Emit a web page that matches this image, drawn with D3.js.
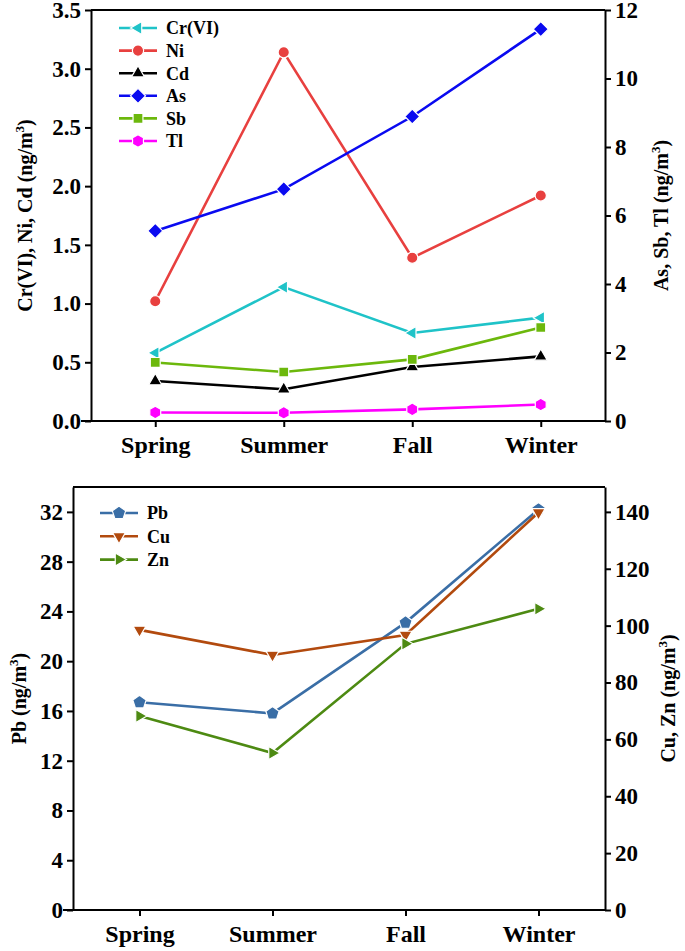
<!DOCTYPE html>
<html>
<head>
<meta charset="utf-8">
<script src="https://cdn.jsdelivr.net/npm/d3@7"></script>
<style>
  body { margin: 0; background: #fff; }
  text { font-family: "Liberation Serif", "Times New Roman", serif; font-weight: bold; fill: #000; }
</style>
</head>
<body>
<svg id="chart" width="685" height="951"></svg>
<script>
// ---- data ----
const seasons = ["Spring", "Summer", "Fall", "Winter"];

// top panel, left axis (ng/m3)
const crVI = [0.58, 1.14, 0.75, 0.88];
const ni   = [1.02, 3.14, 1.39, 1.92];
const cd   = [0.34, 0.27, 0.46, 0.55];
// top panel, right axis (ng/m3)
const as   = [5.55, 6.77, 8.89, 11.44];
const sb   = [1.71, 1.43, 1.80, 2.73];
const tl   = [0.25, 0.24, 0.34, 0.48];

// bottom panel
const pb   = [16.7, 15.8, 23.1, 32.2];   // left axis
const cu   = [98.5, 89.7, 96.7, 139.8];  // right axis
const zn   = [68.2, 55.2, 93.6, 105.9];  // right axis

const topLeftTicks  = [0, 0.5, 1.0, 1.5, 2.0, 2.5, 3.0, 3.5];
const topRightTicks = [0, 2, 4, 6, 8, 10, 12];
const botLeftTicks  = [0, 4, 8, 12, 16, 20, 24, 28, 32];
const botRightTicks = [0, 20, 40, 60, 80, 100, 120, 140];

const svg = d3.select("#chart");

// regular polygon path, centred on 0,0
function poly(n, r, rotDeg) {
    const a0 = rotDeg * Math.PI / 180;
    const pts = d3.range(n).map(i => {
        const a = a0 + i * 2 * Math.PI / n;
        return [r * Math.cos(a), r * Math.sin(a)];
    });
    return "M" + pts.map(p => p.join(",")).join("L") + "Z";
}
const shapes = {
    circle:   d3.symbol(d3.symbolCircle, 100)(),
    triUp:    poly(3, 7.5, -90),
    triDown:  poly(3, 7.5, 90),
    triLeft:  poly(3, 7.5, 180),
    triRight: poly(3, 7.5, 0),
    square:   poly(4, 7, 45),
    diamond:  poly(4, 7.5, 0),
    hexagon:  poly(6, 6.3, -90),
    pentagon: poly(5, 7, -90)
};

function drawPanel(p) {
    const x = d3.scalePoint().domain(seasons).range([p.left, p.right]).padding(0.5);
    const yL = d3.scaleLinear().domain(p.leftDomain).range([p.bottom, p.top]);
    const yR = d3.scaleLinear().domain(p.rightDomain).range([p.bottom, p.top]);

    const g = svg.append("g");

    // frame top edge
    g.append("line")
        .attr("x1", p.left).attr("x2", p.right)
        .attr("y1", p.top).attr("y2", p.top)
        .attr("stroke", "#000").attr("stroke-width", 2);

    const gx = g.append("g")
        .attr("transform", `translate(0,${p.bottom})`)
        .call(d3.axisBottom(x).tickSize(6).tickSizeOuter(0).tickPadding(7));
    gx.select(".domain").attr("d", `M${p.left - 10},0H${p.right}`);
    gx.selectAll("text").attr("font-size", 24).attr("dy", "0.8em");

    const gl = g.append("g")
        .attr("transform", `translate(${p.left},0)`)
        .call(d3.axisLeft(yL).tickValues(p.leftTicks).tickFormat(p.leftFormat)
              .tickSize(6).tickSizeOuter(0).tickPadding(4));
    gl.selectAll("text").attr("font-size", 23);

    const gr = g.append("g")
        .attr("transform", `translate(${p.right},0)`)
        .call(d3.axisRight(yR).tickValues(p.rightTicks).tickFormat(d3.format("d"))
              .tickSize(6).tickSizeOuter(0).tickPadding(4));
    gr.selectAll("text").attr("font-size", 23);

    g.selectAll(".domain, .tick line").attr("stroke", "#000").attr("stroke-width", 2);

    // axis titles
    const midY = (p.top + p.bottom) / 2;
    [[p.leftTitle, p.leftTitleX], [p.rightTitle, p.rightTitleX]].forEach(([t, tx]) => {
        const txt = g.append("text")
            .attr("transform", `translate(${tx},${midY}) rotate(-90)`)
            .attr("text-anchor", "middle")
            .attr("font-size", 20);
        txt.append("tspan").text(t + " (ng/m");
        txt.append("tspan").attr("font-size", 13).attr("dy", -8).text("3");
        txt.append("tspan").attr("dy", 8).text(")");
    });

    // series
    p.series.forEach(s => {
        const y = s.axis === "left" ? yL : yR;
        const line = d3.line().x((d, i) => x(seasons[i])).y(d => y(d));
        g.append("path")
            .attr("d", line(s.values))
            .attr("fill", "none")
            .attr("stroke", s.color)
            .attr("stroke-width", 2.6);
        g.selectAll(null)
            .data(s.values)
            .join("path")
            .attr("d", shapes[s.shape])
            .attr("transform", (d, i) => `translate(${x(seasons[i])},${y(d)})`)
            .attr("fill", s.color)
            .attr("stroke", "#fff")
            .attr("stroke-width", 1.2);
    });

    // legend
    const lg = g.append("g");
    p.series.forEach((s, i) => {
        const ly = p.legendY + i * p.legendStep;
        lg.append("line")
            .attr("x1", p.legendX).attr("x2", p.legendX + 38)
            .attr("y1", ly).attr("y2", ly)
            .attr("stroke", s.color).attr("stroke-width", 2.6);
        lg.append("path")
            .attr("d", shapes[s.shape])
            .attr("transform", `translate(${p.legendX + 19},${ly})`)
            .attr("fill", s.color)
            .attr("stroke", "#fff")
            .attr("stroke-width", 1.2);
        lg.append("text")
            .attr("x", p.legendX + 47).attr("y", ly)
            .attr("dy", "0.35em")
            .attr("font-size", 18)
            .text(s.name);
    });
}

drawPanel({
    left: 91, right: 605, top: 10, bottom: 421,
    leftDomain: [0, 3.5], rightDomain: [0, 12],
    leftTicks: topLeftTicks, rightTicks: topRightTicks,
    leftFormat: d3.format(".1f"),
    leftTitle: "Cr(VI), Ni, Cd", leftTitleX: 32,
    rightTitle: "As, Sb, Tl", rightTitleX: 668,
    legendX: 119, legendY: 28, legendStep: 22.6,
    series: [
        { name: "Cr(VI)", values: crVI, axis: "left",  color: "#1fc3c8", shape: "triLeft" },
        { name: "Ni",     values: ni,   axis: "left",  color: "#e8403f", shape: "circle" },
        { name: "Cd",     values: cd,   axis: "left",  color: "#000000", shape: "triUp" },
        { name: "As",     values: as,   axis: "right", color: "#0a0af0", shape: "diamond" },
        { name: "Sb",     values: sb,   axis: "right", color: "#6cb80c", shape: "square" },
        { name: "Tl",     values: tl,   axis: "right", color: "#ff00ff", shape: "hexagon" }
    ]
});

drawPanel({
    left: 73, right: 605, top: 487, bottom: 910,
    leftDomain: [0, 34], rightDomain: [0, 148.75],
    leftTicks: botLeftTicks, rightTicks: botRightTicks,
    leftFormat: d3.format("d"),
    leftTitle: "Pb", leftTitleX: 26,
    rightTitle: "Cu, Zn", rightTitleX: 675,
    legendX: 100, legendY: 513, legendStep: 23.3,
    series: [
        { name: "Pb", values: pb, axis: "left",  color: "#3a6ea6", shape: "pentagon" },
        { name: "Cu", values: cu, axis: "right", color: "#b24a0e", shape: "triDown" },
        { name: "Zn", values: zn, axis: "right", color: "#4d8a12", shape: "triRight" }
    ]
});
</script>
</body>
</html>
